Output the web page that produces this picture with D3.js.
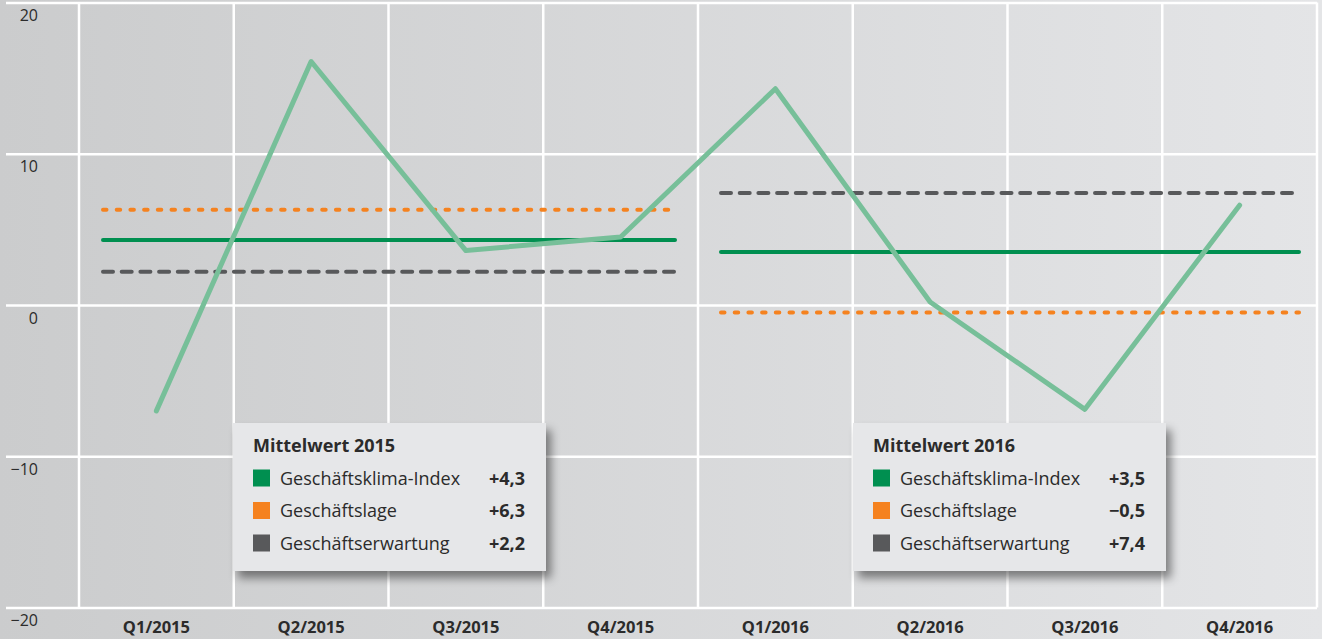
<!DOCTYPE html>
<html>
<head>
<meta charset="utf-8">
<script src="https://cdn.jsdelivr.net/npm/d3@7"></script>
<style>
  html, body { margin: 0; padding: 0; background: #d6d7d9; }
  svg { display: block; }
  text { font-family: "Open Sans", "Noto Sans", sans-serif; }
</style>
</head>
<body>
<svg id="chart" width="1322" height="639"></svg>
<script>
// ---- data ----
const categories = ["Q1/2015", "Q2/2015", "Q3/2015", "Q4/2015", "Q1/2016", "Q2/2016", "Q3/2016", "Q4/2016"];
const klimaValues = [-7.0, 16.1, 3.6, 4.5, 14.3, 0.2, -6.9, 6.6];
const yTicks = [20, 10, 0, -10, -20];
const years = ["2015", "2016"];
const meanKlima = [4.3, 3.5];
const meanLage = [6.3, -0.5];
const meanErwartung = [2.2, 7.4];
const meanLabels = ["+4,3", "+6,3", "+2,2", "+3,5", "\u22120,5", "+7,4"];
const seriesNames = ["Geschäftsklima-Index", "Geschäftslage", "Geschäftserwartung"];

// ---- styles ----
const COL_LINE = "#77bf99";
const COL_GREEN = "#008f50";
const COL_ORANGE = "#f5821f";
const COL_GRAY = "#58595b";
const COL_TEXT = "#2b2b2b";

const W = 1322, H = 639;
const svg = d3.select("#chart");
const defs = svg.append("defs");

const grad = defs.append("linearGradient").attr("id", "bg").attr("x1", 0).attr("x2", 1).attr("y1", 0).attr("y2", 0);
grad.append("stop").attr("offset", "0%").attr("stop-color", "#cbcccd");
grad.append("stop").attr("offset", "100%").attr("stop-color", "#e4e5e7");

const shadow = defs.append("filter").attr("id", "shadow").attr("x", "-10%").attr("y", "-10%").attr("width", "130%").attr("height", "140%");
shadow.append("feDropShadow").attr("dx", 5).attr("dy", 7).attr("stdDeviation", 5)
  .attr("flood-color", "#000").attr("flood-opacity", 0.45);

svg.append("rect").attr("width", W).attr("height", H).attr("fill", "url(#bg)");

// ---- scales ----
const x = d3.scaleBand().domain(categories).range([79, 1317]);
const y = d3.scaleLinear().domain([-20, 20]).range([607.5, 2.5]);

// ---- horizontal grid + y labels via axis ----
const gridLeft = 6, gridRight = 1317;
const yAxis = d3.axisLeft(y).tickValues(yTicks)
  .tickSize(-(gridRight - gridLeft))
  .tickPadding(-32)
  .tickFormat(d => d < 0 ? "\u2212" + Math.abs(d) : String(d));
const gy = svg.append("g").attr("transform", `translate(${gridLeft},0)`).call(yAxis);
gy.select(".domain").remove();
gy.selectAll(".tick line").attr("stroke", "#fff").attr("stroke-width", 2.5);
gy.selectAll(".tick text")
  .attr("fill", COL_TEXT).attr("font-size", 16).attr("dy", 18)
  .attr("text-anchor", "end");

// ---- vertical grid ----
const vx = categories.map(c => x(c)).concat([x.range()[1]]);
svg.append("g").selectAll("line").data(vx).join("line")
  .attr("x1", d => d).attr("x2", d => d)
  .attr("y1", y(20)).attr("y2", y(-20))
  .attr("stroke", "#fff").attr("stroke-width", 2.5);

// ---- x labels via axis ----
const xAxis = d3.axisBottom(x).tickSize(0).tickPadding(0);
const gx = svg.append("g").attr("transform", `translate(0,${y(-20)})`).call(xAxis);
gx.select(".domain").remove();
gx.selectAll(".tick text")
  .attr("fill", COL_TEXT).attr("font-size", 16.5).attr("font-weight", "bold")
  .attr("y", 0).attr("dy", 25);

// ---- mean lines per year ----
const yearRanges = [
  [x(categories[0]) + 22, x(categories[3]) + x.bandwidth() - 21],
  [x(categories[4]) + 21, x(categories[7]) + x.bandwidth() - 16]
];
const meanGroup = svg.append("g");
years.forEach((yr, i) => {
  const [x0, x1] = yearRanges[i];
  meanGroup.append("line").attr("x1", x0 + 2).attr("x2", x1 - 2)
    .attr("y1", y(meanLage[i])).attr("y2", y(meanLage[i]))
    .attr("stroke", COL_ORANGE).attr("stroke-width", 4).attr("stroke-linecap", "round")
    .attr("stroke-dasharray", "3.5,10.2");
  meanGroup.append("line").attr("x1", x0 + 2).attr("x2", x1 - 2)
    .attr("y1", y(meanErwartung[i])).attr("y2", y(meanErwartung[i]))
    .attr("stroke", COL_GRAY).attr("stroke-width", 4).attr("stroke-linecap", "round")
    .attr("stroke-dasharray", "10,8.7");
  meanGroup.append("line").attr("x1", x0 + 2).attr("x2", x1 - 2)
    .attr("y1", y(meanKlima[i])).attr("y2", y(meanKlima[i]))
    .attr("stroke", COL_GREEN).attr("stroke-width", 4).attr("stroke-linecap", "round");
});

// ---- index line ----
const line = d3.line()
  .x((d, i) => x(categories[i]) + x.bandwidth() / 2)
  .y(d => y(d));
svg.append("path").datum(klimaValues).attr("d", line)
  .attr("fill", "none").attr("stroke", COL_LINE).attr("stroke-width", 5)
  .attr("stroke-linejoin", "round").attr("stroke-linecap", "round");

// ---- legend boxes ----
const boxX = [233, 853];
const boxY = 423, boxW = 313, boxH = 148;
const swatchColors = [COL_GREEN, COL_ORANGE, COL_GRAY];
years.forEach((yr, i) => {
  const g = svg.append("g").attr("transform", `translate(${boxX[i]},${boxY})`);
  g.append("rect").attr("width", boxW).attr("height", boxH)
    .attr("fill", "#e6e7e9").attr("filter", "url(#shadow)");
  g.append("text").attr("x", 20).attr("y", 29)
    .attr("font-size", 18).attr("font-weight", "bold").attr("fill", COL_TEXT)
    .text("Mittelwert " + yr);
  seriesNames.forEach((name, j) => {
    const cy = 55 + j * 32.5;
    g.append("rect").attr("x", 20).attr("y", cy - 8.5).attr("width", 17).attr("height", 17)
      .attr("fill", swatchColors[j]);
    g.append("text").attr("x", 47).attr("y", cy + 6.5)
      .attr("font-size", 18).attr("fill", COL_TEXT).text(name);
    g.append("text").attr("x", 292).attr("y", cy + 6.5).attr("text-anchor", "end")
      .attr("font-size", 18).attr("font-weight", "bold").attr("fill", COL_TEXT)
      .text(meanLabels[i * 3 + j]);
  });
});
</script>
</body>
</html>
